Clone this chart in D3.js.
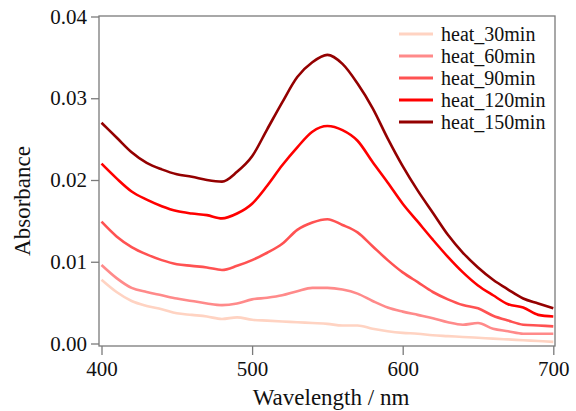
<!DOCTYPE html>
<html>
<head>
<meta charset="utf-8">
<script src="https://cdn.jsdelivr.net/npm/d3@7"></script>
<style>
  html, body { margin: 0; padding: 0; background: #fff; }
  svg { display: block; font-family: "Liberation Serif", "Times New Roman", serif; }
</style>
</head>
<body>
<div id="chart"></div>
<script>
// Wavelength grid (nm), read every 10 nm from the picture
const wavelengths = d3.range(400, 701, 10);

const heat30 = [0.0078, 0.0063, 0.0052, 0.0046, 0.0042, 0.0037, 0.0035, 0.0033, 0.0030, 0.0032,
                0.0029, 0.0028, 0.0027, 0.0026, 0.0025, 0.0024, 0.0022, 0.0022, 0.0018, 0.0015,
                0.0013, 0.0012, 0.0010, 0.0009, 0.0008, 0.0007, 0.0006, 0.0005, 0.0004, 0.0003, 0.0002];
const heat60 = [0.0096, 0.0080, 0.0068, 0.0063, 0.0059, 0.0055, 0.0052, 0.0049, 0.0047, 0.0049,
                0.0054, 0.0056, 0.0059, 0.0064, 0.0068, 0.0068, 0.0066, 0.0061, 0.0052, 0.0044,
                0.0039, 0.0035, 0.0031, 0.0026, 0.0023, 0.0025, 0.0018, 0.0015, 0.0012, 0.0012, 0.0012];
const heat90 = [0.0149, 0.0131, 0.0118, 0.0109, 0.0102, 0.0097, 0.0095, 0.0093, 0.0090, 0.0095,
                0.0102, 0.0111, 0.0122, 0.0139, 0.0148, 0.0152, 0.0145, 0.0136, 0.0119, 0.0102,
                0.0087, 0.0075, 0.0063, 0.0054, 0.0047, 0.0043, 0.0034, 0.0028, 0.0023, 0.0022, 0.0021];
const heat120 = [0.0220, 0.0202, 0.0186, 0.0176, 0.0168, 0.0162, 0.0159, 0.0157, 0.0153, 0.0159,
                 0.0171, 0.0193, 0.0218, 0.0240, 0.0259, 0.0266, 0.0261, 0.0248, 0.0222, 0.0197,
                 0.0171, 0.0149, 0.0127, 0.0106, 0.0087, 0.0071, 0.0059, 0.0048, 0.0044, 0.0035, 0.0033];
const heat150 = [0.0270, 0.0252, 0.0234, 0.0221, 0.0213, 0.0207, 0.0204, 0.0200, 0.0198, 0.0210,
                 0.0229, 0.0262, 0.0295, 0.0326, 0.0344, 0.0353, 0.0342, 0.0318, 0.0288, 0.0251,
                 0.0217, 0.0187, 0.0160, 0.0133, 0.0111, 0.0093, 0.0078, 0.0066, 0.0055, 0.0049, 0.0043];

const seriesNames = ["heat_30min", "heat_60min", "heat_90min", "heat_120min", "heat_150min"];
const seriesValues = [heat30, heat60, heat90, heat120, heat150];
const seriesColors = ["#ffd3c2", "#ff8a8a", "#ff5252", "#ff0000", "#940000"];

const xTicks = [400, 500, 600, 700];
const yTicks = [0, 0.01, 0.02, 0.03, 0.04];

const W = 576, H = 411;
const frame = { left: 99, right: 555, top: 16, bottom: 346 };
const axisColor = "#7a7a7a";

const svg = d3.select("#chart").append("svg")
    .attr("width", W).attr("height", H);

const x = d3.scaleLinear().domain([400, 700]).range([101.5, 553.3]);
const y = d3.scaleLinear().domain([0, 0.04]).range([343.5, 16.5]);

// Curves
const line = d3.line()
    .x((d, i) => x(wavelengths[i]))
    .y(d => y(d))
    .curve(d3.curveMonotoneX);

svg.append("g").selectAll("path")
    .data(seriesValues).enter()
    .append("path")
    .attr("d", d => line(d))
    .attr("fill", "none")
    .attr("stroke", (d, i) => seriesColors[i])
    .attr("stroke-width", 2.6)
    .attr("stroke-linejoin", "round");

// Frame
svg.append("rect")
    .attr("x", frame.left).attr("y", frame.top)
    .attr("width", frame.right - frame.left)
    .attr("height", frame.bottom - frame.top)
    .attr("fill", "none")
    .attr("stroke", axisColor).attr("stroke-width", 1.3);

// Y axis
const yAxis = svg.append("g")
    .attr("transform", `translate(${frame.left},0)`)
    .call(d3.axisLeft(y).tickValues(yTicks).tickFormat(d3.format(".2f")).tickSize(8).tickPadding(4));
yAxis.select(".domain").remove();
yAxis.selectAll("line").attr("stroke", axisColor).attr("stroke-width", 1.3);
yAxis.selectAll("text")
    .attr("fill", "#111")
    .style("font-family", "'Liberation Serif', serif")
    .style("font-size", "21px");

// X axis
const xAxis = svg.append("g")
    .attr("transform", `translate(0,${frame.bottom})`)
    .call(d3.axisBottom(x).tickValues(xTicks).tickSize(9).tickPadding(6));
xAxis.select(".domain").remove();
xAxis.selectAll("line").attr("stroke", axisColor).attr("stroke-width", 1.3);
xAxis.selectAll("text")
    .attr("fill", "#111")
    .style("font-family", "'Liberation Serif', serif")
    .style("font-size", "21px");

// Axis titles
svg.append("text")
    .attr("x", (frame.left + frame.right) / 2 + 4)
    .attr("y", 405)
    .attr("text-anchor", "middle")
    .attr("fill", "#111")
    .style("font-size", "23px")
    .text("Wavelength / nm");

svg.append("text")
    .attr("transform", `translate(30,${201}) rotate(-90)`)
    .attr("text-anchor", "middle")
    .attr("fill", "#111")
    .style("font-size", "23px")
    .text("Absorbance");

// Legend
const legend = svg.append("g").attr("transform", "translate(399,34)");
const rows = legend.selectAll("g")
    .data(seriesNames).enter()
    .append("g")
    .attr("transform", (d, i) => `translate(0,${i * 22})`);
rows.append("line")
    .attr("x1", 0).attr("x2", 34)
    .attr("y1", 0).attr("y2", 0)
    .attr("stroke", (d, i) => seriesColors[i])
    .attr("stroke-width", 3);
rows.append("text")
    .attr("x", 42).attr("y", 6.5)
    .attr("fill", "#111")
    .style("font-size", "20px")
    .text(d => d);
</script>
</body>
</html>
